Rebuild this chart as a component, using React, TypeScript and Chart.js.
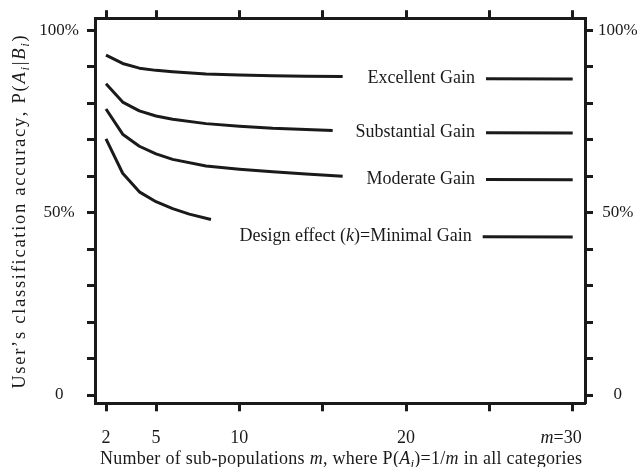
import { useEffect, useRef } from 'react';
import { Chart, registerables } from 'chart.js';

Chart.register(...registerables);

// ---- data ----
const excellentLeftM = [2, 3, 4, 5, 6, 8, 10, 12, 14, 16.2];
const excellentLeftP = [93.2, 90.9, 89.6, 89.0, 88.6, 88.0, 87.7, 87.5, 87.4, 87.3];
const excellentRightM = [24.8, 30];
const excellentRightP = [86.7, 86.6];

const substantialLeftM = [2, 3, 4, 5, 6, 8, 10, 12, 14, 15.6];
const substantialLeftP = [85.3, 80.3, 77.9, 76.5, 75.6, 74.4, 73.7, 73.1, 72.8, 72.5];
const substantialRightM = [24.8, 30];
const substantialRightP = [71.9, 71.8];

const moderateLeftM = [2, 3, 4, 5, 6, 8, 10, 12, 14, 16.2];
const moderateLeftP = [78.4, 71.5, 68.2, 66.1, 64.6, 62.8, 61.9, 61.2, 60.6, 60.0];
const moderateRightM = [24.8, 30];
const moderateRightP = [59.1, 59.0];

const minimalLeftM = [2, 3, 4, 5, 6, 7, 8.3];
const minimalLeftP = [70.2, 60.8, 55.7, 53.0, 51.1, 49.6, 48.1];
const minimalRightM = [24.6, 30];
const minimalRightP = [43.4, 43.3];

const xTickValues = [2, 5, 10, 15, 20, 25, 30];
const xTickLabels = ['2', '5', '10', '', '20', '', '30'];
const yTickValues = [0, 10, 20, 30, 40, 50, 60, 70, 80, 90, 100];
const yTickLabels = ['0', '', '', '', '', '50%', '', '', '', '', '100%'];

type Seg = { t: string; i?: boolean; sub?: boolean };
const seriesLabels: Seg[][] = [
  [{ t: 'Excellent Gain' }],
  [{ t: 'Substantial Gain' }],
  [{ t: 'Moderate Gain' }],
  [{ t: 'Design effect (' }, { t: 'k', i: true }, { t: ')=Minimal Gain' }],
];
const xTitle: Seg[] = [
  { t: 'Number of sub-populations ' },
  { t: 'm', i: true },
  { t: ', where P(' },
  { t: 'A', i: true },
  { t: 'i', i: true, sub: true },
  { t: ')=1/' },
  { t: 'm', i: true },
  { t: ' in all categories' },
];
const yTitle: Seg[] = [
  { t: 'User\u2019s classification accuracy, P(' },
  { t: 'A', i: true },
  { t: 'i', i: true, sub: true },
  { t: '|' },
  { t: 'B', i: true },
  { t: 'i', i: true, sub: true },
  { t: ')' },
];

const FONT = '"Liberation Serif", "Times New Roman", serif';
const INK = '#1a1a1a';

function segFont(s: Seg, size: number) {
  const sz = s.sub ? Math.round(size * 0.7) : size;
  return `${s.i ? 'italic ' : ''}${sz}px ${FONT}`;
}

// draws mixed-style text; if targetWidth is given, extra space is spread between characters
function drawRich(
  ctx: CanvasRenderingContext2D,
  segs: Seg[],
  x: number,
  y: number,
  align: 'left' | 'center' | 'right',
  size: number,
  targetWidth?: number
) {
  const widths = segs.map((s) => {
    ctx.font = segFont(s, size);
    return ctx.measureText(s.t).width;
  });
  const natural = widths.reduce((a, b) => a + b, 0);
  const nChars = segs.reduce((a, s) => a + s.t.length, 0);
  const spacing = targetWidth && nChars > 1 ? (targetWidth - natural) / (nChars - 1) : 0;
  const total = natural + spacing * (nChars - 1);
  let cx = align === 'left' ? x : align === 'center' ? x - total / 2 : x - total;
  ctx.textBaseline = 'middle';
  ctx.textAlign = 'left';
  segs.forEach((s, k) => {
    ctx.font = segFont(s, size);
    const yy = s.sub ? y + size * 0.28 : y;
    if (!spacing) {
      ctx.fillText(s.t, cx, yy);
      cx += widths[k];
    } else {
      for (const ch of s.t) {
        ctx.fillText(ch, cx, yy);
        cx += ctx.measureText(ch).width + spacing;
      }
    }
  });
}

const pts = (m: number[], p: number[]) => m.map((v, k) => ({ x: v, y: p[k] }));

const annotate = {
  id: 'annotate',
  afterDraw(chart: any) {
    const ctx: CanvasRenderingContext2D = chart.ctx;
    const xs = chart.scales.x;
    const ys = chart.scales.y;
    const area = chart.chartArea;
    ctx.save();
    ctx.fillStyle = INK;

    // x tick labels
    xTickValues.forEach((v, k) => {
      const lab = xTickLabels[k];
      if (!lab) return;
      const px = xs.getPixelForValue(v);
      const py = area.bottom + 35;
      if (k === xTickValues.length - 1) {
        ctx.font = `18px ${FONT}`;
        const w = ctx.measureText(lab).width;
        drawRich(ctx, [{ t: 'm', i: true }, { t: '=' }], px - w / 2, py, 'right', 18);
        drawRich(ctx, [{ t: lab }], px, py, 'center', 18);
      } else {
        drawRich(ctx, [{ t: lab }], px, py, 'center', 18);
      }
    });

    // series labels
    const rights = [
      [excellentRightM, excellentRightP],
      [substantialRightM, substantialRightP],
      [moderateRightM, moderateRightP],
      [minimalRightM, minimalRightP],
    ];
    rights.forEach(([m, p], k) => {
      const px = xs.getPixelForValue(m[0]) - 11;
      const py = ys.getPixelForValue(p[0]);
      drawRich(ctx, seriesLabels[k], px, py, 'right', 18);
    });

    // axis titles
    drawRich(ctx, xTitle, (area.left + area.right) / 2 + 1, area.bottom + 56, 'center', 18, 482);
    ctx.translate(area.left - 75, (area.top + area.bottom) / 2 + 2);
    ctx.rotate(-Math.PI / 2);
    drawRich(ctx, yTitle, 0, 0, 'center', 18.5, 352);
    ctx.restore();
  },
};

export default function App() {
  const ref = useRef<HTMLCanvasElement | null>(null);

  useEffect(() => {
    if (!ref.current) return;
    const line = (data: { x: number; y: number }[]) => ({
      data,
      borderColor: INK,
      borderWidth: 3,
      pointRadius: 0,
      tension: 0,
      fill: false,
      borderCapStyle: 'butt' as const,
      borderJoinStyle: 'round' as const,
    });
    const grid = {
      drawOnChartArea: false,
      drawTicks: true,
      tickLength: 8,
      tickWidth: 3,
      tickColor: INK,
    };
    const border = { display: true, width: 3, color: INK };
    const xCommon = {
      type: 'linear' as const,
      min: 1.34,
      max: 30.74,
      grid,
      border,
      ticks: { display: false },
      afterBuildTicks: (s: any) => {
        s.ticks = xTickValues.map((v) => ({ value: v }));
      },
    };
    const yCommon = {
      type: 'linear' as const,
      min: -2.27,
      max: 103.3,
      grid,
      border,
      afterBuildTicks: (s: any) => {
        s.ticks = yTickValues.map((v) => ({ value: v }));
      },
    };
    const yTickCb = (v: any) => {
      const k = yTickValues.indexOf(Number(v));
      return k >= 0 ? yTickLabels[k] : '';
    };

    const chart = new Chart(ref.current, {
      type: 'line',
      data: {
        datasets: [
          line(pts(excellentLeftM, excellentLeftP)),
          line(pts(excellentRightM, excellentRightP)),
          line(pts(substantialLeftM, substantialLeftP)),
          line(pts(substantialRightM, substantialRightP)),
          line(pts(moderateLeftM, moderateLeftP)),
          line(pts(moderateRightM, moderateRightP)),
          line(pts(minimalLeftM, minimalLeftP)),
          line(pts(minimalRightM, minimalRightP)),
        ],
      },
      options: {
        animation: false,
        responsive: true,
        maintainAspectRatio: false,
        layout: { padding: 0 },
        plugins: { legend: { display: false }, tooltip: { enabled: false } },
        scales: {
          x: {
            ...xCommon,
            position: 'bottom',
            afterFit: (s: any) => {
              s.height = 63.7;
            },
          },
          x2: {
            ...xCommon,
            position: 'top',
            afterFit: (s: any) => {
              s.height = 17.7;
            },
          },
          y: {
            ...yCommon,
            position: 'left',
            ticks: {
              callback: yTickCb,
              crossAlign: 'center',
              padding: 8,
              color: INK,
              font: { family: FONT, size: 17 },
              autoSkip: false,
            },
            afterFit: (s: any) => {
              s.width = 95;
            },
          },
          y2: {
            ...yCommon,
            position: 'right',
            ticks: {
              callback: yTickCb,
              crossAlign: 'center',
              padding: 5,
              color: INK,
              font: { family: FONT, size: 17 },
              autoSkip: false,
            },
            afterFit: (s: any) => {
              s.width = 57;
            },
          },
        },
      } as any,
      plugins: [annotate],
    });
    return () => chart.destroy();
  }, []);

  return (
    <div style={{ position: 'absolute', left: 0, top: 0, width: 642, height: 467, background: '#fff' }}>
      <canvas ref={ref} />
    </div>
  );
}
